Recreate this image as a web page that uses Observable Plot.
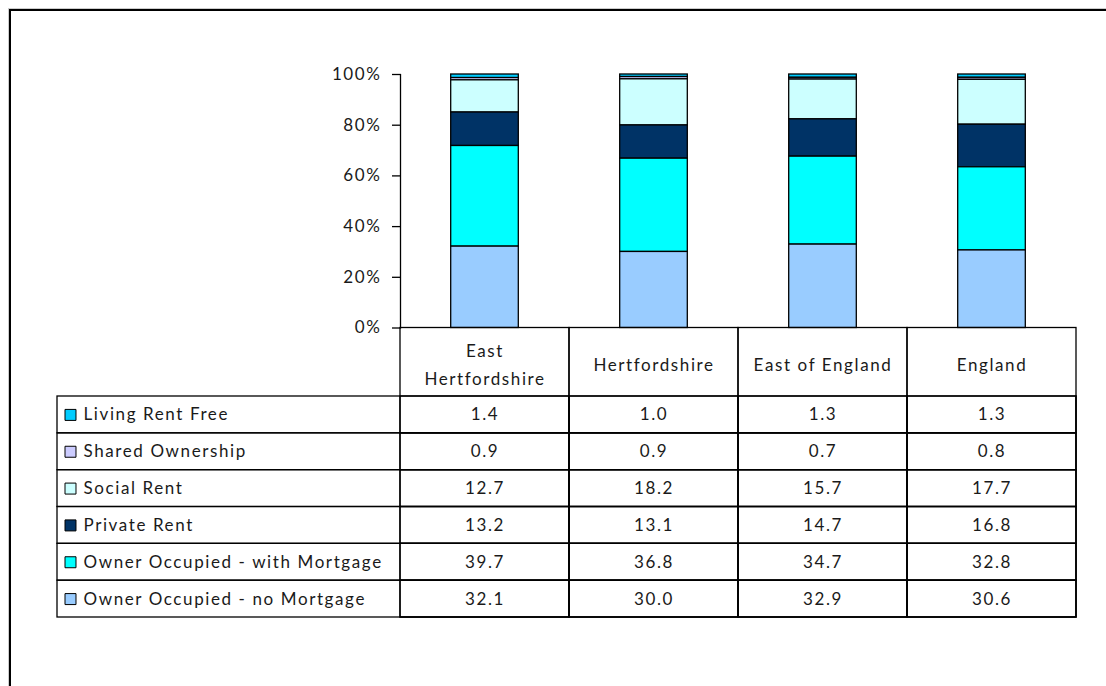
<!DOCTYPE html>
<html>
<head>
<meta charset="utf-8">
<script src="https://cdn.jsdelivr.net/npm/d3@7"></script>
<script src="https://cdn.jsdelivr.net/npm/@observablehq/plot@0.6"></script>
<style>
  html, body { margin: 0; padding: 0; background: #fff; }
  #wrap { position: relative; width: 1106px; height: 686px; overflow: hidden; background: #fff; }
  #wrap svg { position: absolute; left: 0; top: 0; background: transparent; }
  #wrap svg text { letter-spacing: 1.6px; }
  #border { position: absolute; left: 9px; top: 9px; width: 1200px; height: 800px;
            border-left: 2px solid #000; border-top: 2px solid #000;
            box-shadow: -1px -1px 0 #ccc; }
</style>
</head>
<body>
<div id="wrap"><div id="border"></div></div>
<script>
// ---- Data ----
const areas = ["East Hertfordshire", "Hertfordshire", "East of England", "England"];
const headerLabels = ["East\nHertfordshire", "Hertfordshire", "East of England", "England"];
// table order (top to bottom)
const tenures = ["Living Rent Free", "Shared Ownership", "Social Rent", "Private Rent",
                 "Owner Occupied - with Mortgage", "Owner Occupied - no Mortgage"];
const tenureColors = ["#00CCFF", "#CCCCFF", "#CCFFFF", "#003366", "#00FFFF", "#99CCFF"];
const livingRentFree   = [1.4, 1.0, 1.3, 1.3];
const sharedOwnership  = [0.9, 0.9, 0.7, 0.8];
const socialRent       = [12.7, 18.2, 15.7, 17.7];
const privateRent      = [13.2, 13.1, 14.7, 16.8];
const withMortgage     = [39.7, 36.8, 34.7, 32.8];
const noMortgage       = [32.1, 30.0, 32.9, 30.6];
const yTicks = [0, 20, 40, 60, 80, 100];

const seriesValues = [livingRentFree, sharedOwnership, socialRent, privateRent, withMortgage, noMortgage];
const tableData = [];
tenures.forEach((t, j) => areas.forEach((a, i) => tableData.push({tenure: t, area: a, value: seriesValues[j][i]})));

const W = 1106, H = 686;
const font = "Lato, 'Open Sans', sans-serif";
const FS = 17;
const ink = "#1a1a1a";
const colorScale = {domain: tenures, range: tenureColors};

// ---- Stacked bar chart ----
const bars = Plot.plot({
  width: W, height: H,
  marginLeft: 400, marginRight: 30, marginTop: 74, marginBottom: H - 327.5,
  style: {fontFamily: font, fontSize: FS + "px", color: ink, background: "transparent", overflow: "visible"},
  x: {domain: areas, paddingInner: 0.6, paddingOuter: 0.3, round: false, axis: null},
  y: {domain: [0, 100], axis: null},
  color: colorScale,
  marks: [
    Plot.barY(tableData, {
      x: "area", y: "value", fill: "tenure",
      order: tenures.slice().reverse(),
      stroke: "#000", strokeWidth: 1.3
    }),
    Plot.frame({anchor: "left", stroke: "#000", strokeWidth: 1.3}),
    Plot.axisY({
      ticks: yTicks, tickFormat: d => d + "%", tickSize: 8, tickPadding: 11,
      stroke: "#000", strokeWidth: 1.3, strokeOpacity: 1, label: null,
      fontSize: FS, fill: ink
    })
  ]
});

// ---- Data table ----
const table = Plot.plot({
  width: W, height: H,
  marginLeft: 400, marginRight: 30, marginTop: 396, marginBottom: H - 617,
  style: {fontFamily: font, fontSize: FS + "px", color: ink, background: "transparent", overflow: "visible"},
  x: {domain: areas, padding: 0, round: false, axis: null},
  y: {domain: tenures, padding: 0, round: false, axis: null},
  color: colorScale,
  marks: [
    // legend column rows (extend left)
    Plot.cell(tenures, {y: d => d, insetLeft: -343, fill: "none", stroke: "#000", strokeWidth: 1.3}),
    // column cells including header (extend up)
    Plot.cell(areas, {x: d => d, insetTop: -68.5, fill: "none", stroke: "#000", strokeWidth: 1.3}),
    // data cells
    Plot.cell(tableData, {x: "area", y: "tenure", fill: "none", stroke: "#000", strokeWidth: 1.3}),
    // header labels
    Plot.text(areas, {x: d => d, text: (d, i) => headerLabels[i], frameAnchor: "top", dy: -34.5,
      lineAnchor: "middle", lineHeight: 1.65, fontSize: FS, fill: ink}),
    // values
    Plot.text(tableData, {x: "area", y: "tenure", text: d => d.value.toFixed(1),
      fontSize: FS, fill: ink}),
    // legend swatches
    Plot.dot(tenures, {y: d => d, fill: d => d, frameAnchor: "left", dx: -330,
      symbol: "square", r: 6.2, stroke: "#000", strokeWidth: 1}),
    // legend labels
    Plot.text(tenures, {y: d => d, text: d => d, frameAnchor: "left", dx: -317,
      textAnchor: "start", fontSize: FS, fill: ink})
  ]
});

const wrap = document.getElementById("wrap");
wrap.appendChild(bars);
wrap.appendChild(table);
</script>
</body>
</html>
